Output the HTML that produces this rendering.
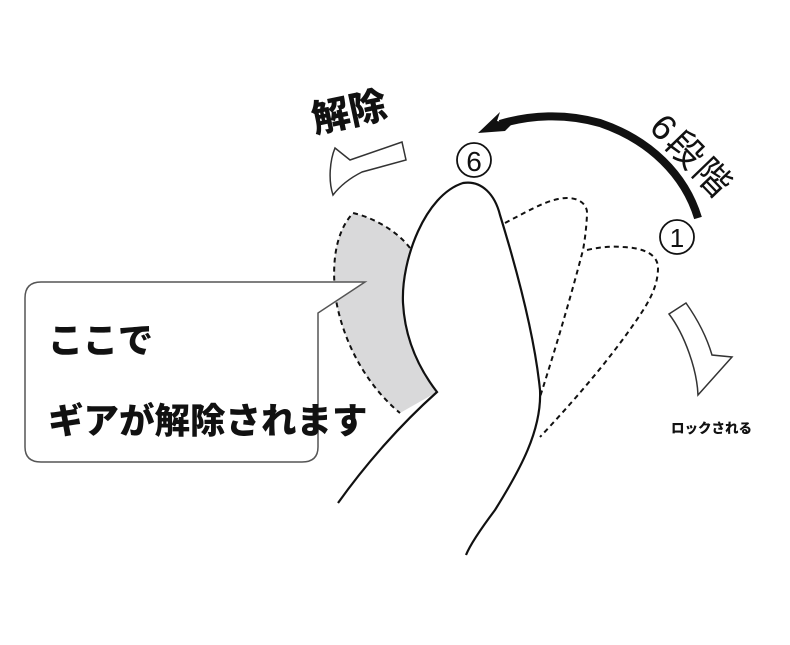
<!DOCTYPE html>
<html><head><meta charset="utf-8"><style>
html,body{margin:0;padding:0;background:#fff;width:790px;height:645px;overflow:hidden}
svg{display:block}
text{font-family:"Liberation Sans","Noto Sans CJK JP",sans-serif;fill:#111}
.b{font-weight:900}
.n{font-weight:normal}
</style></head><body>
<svg width="790" height="645" viewBox="0 0 790 645" xmlns="http://www.w3.org/2000/svg">
<path d="M353,213 C375,218 398,232 410,248 C404,268 402,290 403,303 C405,340 420,370 437,392 L400,413 C372,390 345,350 336,300 C332,270 333,235 353,213 Z" fill="#d9d9da"/>
<path d="M410,248 C398,232 375,218 353,213 C333,235 332,270 336,300 C345,350 372,390 400,413" fill="none" stroke="#111" stroke-width="2" stroke-dasharray="5,4"/>
<path d="M505,223 C530,210 550,198 567,198 C580,198 588,205 587,215 C586,235 583,250 583,250 C570,300 555,350 540,397" fill="none" stroke="#111" stroke-width="2" stroke-dasharray="5,4"/>
<path d="M587,250 C600,247 612,246 623,247 C645,248 658,255 658,268 C658,285 650,300 640,315 C610,360 570,405 540,437" fill="none" stroke="#111" stroke-width="2" stroke-dasharray="5,4"/>
<path d="M338,503 C365,465 400,425 437,392 C420,370 405,340 403,303 C401,260 425,195 463,183 C482,180 495,195 500,215 C520,280 535,340 540,390 C542,430 520,470 495,510 C480,530 470,545 466,555" fill="none" stroke="#111" stroke-width="2.2"/>
<path d="M25,298 Q25,282 41,282 L365,282 L318,313 L318,447 Q318,462 302,462 L41,462 Q25,462 25,447 Z" fill="#fff" stroke="#555" stroke-width="1.5"/>
<text class="b" x="48" y="353" font-size="35">ここで</text>
<text class="b" x="48" y="433" font-size="35.5">ギアが解除されます</text>
<path d="M698,218 C685,175 650,140 600,123 C565,113 530,115 500,124" fill="none" stroke="#111" stroke-width="8"/>
<path d="M478,133 L500,112 L497,121 L512,124 L505,131 Z" fill="#111"/>
<circle cx="474" cy="160" r="17" fill="#fff" stroke="#111" stroke-width="1.8"/>
<text class="n" x="474" y="171" font-size="28" text-anchor="middle">6</text>
<circle cx="677" cy="237" r="17" fill="#fff" stroke="#111" stroke-width="1.8"/>
<text class="n" x="677" y="247" font-size="26" text-anchor="middle">1</text>
<text class="n" transform="translate(683,165) rotate(46)" font-size="36" letter-spacing="3" text-anchor="middle">6段階</text>
<text class="b" transform="translate(352,125) rotate(-12)" font-size="38" text-anchor="middle">解除</text>
<path d="M335,148 L350,160 L402,142 L406,160 L362,172 C350,178 340,186 333,195 C328,180 330,160 335,148 Z" fill="#fff" stroke="#333" stroke-width="1.5"/>
<path d="M669,314 L686,303 C698,320 707,338 712,355 L732,357 L698,395 C697,370 685,335 669,314 Z" fill="#fff" stroke="#333" stroke-width="1.5"/>
<text class="b" x="671" y="433" font-size="13.5">ロックされる</text>
</svg>
</body></html>
